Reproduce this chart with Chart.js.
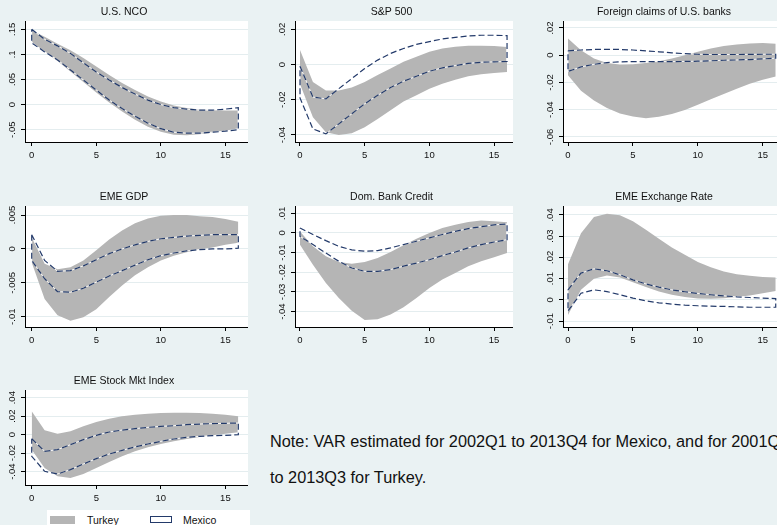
<!DOCTYPE html>
<html>
<head>
<meta charset="utf-8">
<script src="https://cdn.jsdelivr.net/npm/chart.js@4.4.1/dist/chart.umd.min.js"></script>
<style>
  html, body { margin: 0; padding: 0; }
  body {
    width: 777px; height: 525px; overflow: hidden; position: relative;
    background: #eaf2f3; font-family: "Liberation Sans", Arial, sans-serif; color: #111;
  }
  canvas { position: absolute; }
  .note { position: absolute; left: 270px; top: 423px; font-size: 16.3px; line-height: 36px; white-space: nowrap; }
  .legend { position: absolute; left: 47px; top: 510px; width: 203px; height: 24px; background: #fff; }
  .sw { position: absolute; top: 6px; height: 8px; }
  .sw.tur { left: 3px; width: 25px; background: #b5b5b5; }
  .sw.mex { left: 103px; width: 20px; height: 5px; border: 1.5px solid #233a6a; }
  .lab { position: absolute; top: 3px; font-size: 10.5px; line-height: 14px; }
</style>
</head>
<body>
<canvas id="p1"></canvas>
<canvas id="p2"></canvas>
<canvas id="p3"></canvas>
<canvas id="p4"></canvas>
<canvas id="p5"></canvas>
<canvas id="p6"></canvas>
<canvas id="p7"></canvas>

<div class="note">Note: VAR estimated for 2002Q1 to 2013Q4 for Mexico, and for 2001Q1<br>to 2013Q3 for Turkey.</div>
<div class="legend">
  <span class="sw tur"></span><span class="lab" style="left:40px">Turkey</span>
  <span class="sw mex"></span><span class="lab" style="left:136px">Mexico</span>
</div>

<script>
const horizon = [0, 1, 2, 3, 4, 5, 6, 7, 8, 9, 10, 11, 12, 13, 14, 15, 16];
const xTicks = [0, 5, 10, 15];

// U.S. NCO
const ncoTurLo = [.125, .105, .087, .066, .045, .024, .004, -.014, -.030, -.044, -.054, -.060, -.061, -.059, -.056, -.052, -.047];
const ncoTurHi = [.148, .135, .121, .108, .093, .076, .059, .043, .029, .016, .006, -.002, -.007, -.010, -.011, -.012, -.012];
const ncoMexLo = [.123, .105, .089, .069, .049, .029, .009, -.008, -.023, -.037, -.048, -.055, -.057, -.057, -.055, -.053, -.050];
const ncoMexHi = [.150, .130, .117, .102, .083, .065, .049, .034, .021, .009, 0, -.006, -.009, -.011, -.011, -.009, -.006];
const ncoTicks = [-.05, 0, .05, .1, .15];

// S&P 500
const spTurLo = [-.011, -.030, -.0385, -.040, -.039, -.0356, -.031, -.026, -.021, -.0175, -.0137, -.0109, -.0086, -.0067, -.0055, -.0048, -.0042];
const spTurHi = [.0082, -.010, -.0147, -.0147, -.013, -.010, -.006, -.0023, .0015, .0044, .0072, .0091, .0101, .0107, .0107, .0105, .0099];
const spMexLo = [-.019, -.0366, -.0394, -.0337, -.028, -.0223, -.0175, -.0131, -.0095, -.0067, -.0038, -.0019, -.0006, .0006, .0013, .0015, .0017];
const spMexHi = [-.001, -.0185, -.0195, -.0137, -.008, -.0023, .0025, .0063, .0091, .0114, .013, .0145, .0154, .0162, .0166, .0166, .0164];
const spTicks = [-.04, -.02, 0, .02];

// Foreign claims of U.S. banks
const fcTurLo = [-.0148, -.026, -.0333, -.0388, -.0427, -.0449, -.0462, -.0452, -.0432, -.0402, -.0363, -.0323, -.0284, -.0247, -.021, -.018, -.0156];
const fcTurHi = [.0123, .0037, -.0025, -.0057, -.0069, -.0067, -.0057, -.0044, -.0025, 0, .0025, .0049, .0067, .0079, .0086, .0089, .0084];
const fcMexLo = [-.0119, -.0086, -.0067, -.0054, -.0049, -.0047, -.0047, -.0047, -.0047, -.0046, -.0044, -.0041, -.0037, -.0035, -.0032, -.0027, -.0022];
const fcMexHi = [.0032, .0038, .0042, .0043, .0042, .0038, .0032, .0025, .0017, .0011, .0007, .0005, .0005, .0005, .0006, .0007, .0007];
const fcTicks = [-.06, -.04, -.02, 0, .02];

// EME GDP
const gdpTurLo = [-.002, -.0074, -.0098, -.0106, -.0101, -.0089, -.0071, -.0054, -.0039, -.0027, -.0017, -.001, -.0005, -.0001, .0002, .0006, .0009];
const gdpTurHi = [.0017, -.0022, -.003, -.0027, -.0017, -.0002, .0014, .0027, .0038, .0045, .0049, .005, .005, .0048, .0047, .0044, .004];
const gdpMexLo = [-.0017, -.0044, -.0063, -.0064, -.0058, -.0049, -.004, -.0032, -.0024, -.0016, -.001, -.0006, -.0003, -.0001, 0, 0, .0001];
const gdpMexHi = [.0021, -.0017, -.0033, -.0032, -.0025, -.0016, -.0007, 0, .0006, .0011, .0015, .0017, .0019, .002, .0021, .0021, .0021];
const gdpTicks = [-.01, -.005, 0, .005];

// Dom. Bank Credit
const dbcTurLo = [-.006, -.0161, -.0254, -.033, -.0395, -.0442, -.0438, -.0415, -.0378, -.033, -.028, -.0237, -.0203, -.0169, -.0144, -.0124, -.0102];
const dbcTurHi = [.0008, -.0068, -.0119, -.0147, -.0156, -.0147, -.0127, -.0097, -.0063, -.0029, 0, .0025, .0042, .0056, .0063, .0059, .0054];
const dbcMexLo = [-.0017, -.0059, -.0102, -.0144, -.0178, -.0195, -.0195, -.0186, -.0169, -.0153, -.0136, -.0115, -.0097, -.0076, -.0059, -.0046, -.0034];
const dbcMexHi = [.0025, -.0008, -.0039, -.0068, -.0086, -.0093, -.009, -.0076, -.0059, -.0042, -.0025, -.0008, .0008, .0022, .0032, .0041, .0046];
const dbcTicks = [-.04, -.03, -.02, -.01, 0, .01];

// EME Exchange Rate
const fxTurLo = [-.0071, .0047, .0099, .0115, .0105, .0083, .006, .0039, .0024, .0013, .0006, .0005, .0008, .0013, .002, .0031, .0042];
const fxTurHi = [.0168, .0314, .039, .0406, .0398, .037, .033, .0288, .0247, .0212, .0178, .0154, .0134, .0121, .0113, .0108, .0105];
const fxMexLo = [-.0052, .0031, .0047, .0039, .0024, .0008, -.0005, -.0014, -.002, -.0025, -.0028, -.003, -.0031, -.0033, -.0035, -.0035, -.0035];
const fxMexHi = [.0047, .0126, .0146, .0137, .0118, .0094, .0075, .006, .0047, .0038, .003, .0024, .0019, .0014, .0011, .0008, .0006];
const fxTicks = [-.01, 0, .01, .02, .03, .04];

// EME Stock Mkt Index
const smTurLo = [-.0162, -.036, -.045, -.0468, -.0425, -.036, -.0295, -.0234, -.018, -.0137, -.0101, -.0072, -.0047, -.0025, -.0007, .0011, .0025];
const smTurHi = [.0252, .0047, .0011, .0036, .009, .0137, .0173, .0198, .0216, .0227, .0234, .0238, .0238, .0234, .0227, .0216, .0198];
const smMexLo = [-.0234, -.0396, -.0425, -.0378, -.0317, -.0259, -.0209, -.0169, -.0133, -.0101, -.0072, -.0047, -.0029, -.0018, -.0011, -.0007, 0];
const smMexHi = [-.0043, -.018, -.0162, -.0108, -.0054, -.0007, .0029, .005, .0065, .0079, .009, .0097, .0108, .0115, .0119, .0123, .0126];
const smTicks = [-.04, -.02, 0, .02, .04];

const FONT = '"Liberation Sans", Arial, sans-serif';
const NAVY = '#233a6a';
const GRAY = '#b5b5b5';

// box = [left, top, width, height] of each canvas on the page
const panels = [
  { id: 'p1', title: 'U.S. NCO', tur: [ncoTurLo, ncoTurHi], mex: [ncoMexLo, ncoMexHi], yTicks: ncoTicks, y: [-.0745, .1665], x: [-.52, 16.75], box: [0, 0, 248, 162] },
  { id: 'p2', title: 'S&P 500', tur: [spTurLo, spTurHi], mex: [spMexLo, spMexHi], yTicks: spTicks, y: [-.044, .0247], x: [-.386, 16.46], box: [270, 0, 243, 162] },
  { id: 'p3', title: 'Foreign claims of U.S. banks', tur: [fcTurLo, fcTurHi], mex: [fcMexLo, fcMexHi], yTicks: fcTicks, y: [-.0637, .0251], x: [-.386, 17.1], box: [538, 0, 252, 162] },
  { id: 'p4', title: 'EME GDP', tur: [gdpTurLo, gdpTurHi], mex: [gdpMexLo, gdpMexHi], yTicks: gdpTicks, y: [-.01152, .00633], x: [-.52, 16.75], box: [0, 185, 248, 162] },
  { id: 'p5', title: 'Dom. Bank Credit', tur: [dbcTurLo, dbcTurHi], mex: [dbcMexLo, dbcMexHi], yTicks: dbcTicks, y: [-.0478, .0137], x: [-.386, 16.46], box: [270, 185, 243, 162] },
  { id: 'p6', title: 'EME Exchange Rate', tur: [fxTurLo, fxTurHi], mex: [fxMexLo, fxMexHi], yTicks: fxTicks, y: [-.0128, .0442], x: [-.386, 17.1], box: [538, 185, 252, 162] },
  { id: 'p7', title: 'EME Stock Mkt Index', tur: [smTurLo, smTurHi], mex: [smMexLo, smMexHi], yTicks: smTicks, y: [-.0544, .0483], x: [-.52, 16.75], box: [0, 369, 248, 136] }
];

// Stata style labels: .05 instead of 0.05
function fmt(v) {
  return String(+v.toFixed(4)).replace('0.', '.');
}

function series(vals) {
  return horizon.map((x, i) => ({ x: x, y: vals[i] }));
}

// closed outline: upper bound out, lower bound back
function outline(lo, hi) {
  const pts = series(hi);
  for (let i = horizon.length - 1; i >= 0; i--) pts.push({ x: horizon[i], y: lo[i] });
  pts.push({ x: horizon[0], y: hi[0] });
  return pts;
}

const plotBackground = {
  id: 'plotBackground',
  beforeDraw(chart) {
    const { ctx, chartArea: a } = chart;
    ctx.save();
    ctx.fillStyle = '#fff';
    ctx.fillRect(a.left, a.top, a.right - a.left, a.bottom - a.top);
    ctx.restore();
  }
};

const rotatedYLabels = {
  id: 'rotatedYLabels',
  afterDraw(chart) {
    const s = chart.scales.y;
    const ctx = chart.ctx;
    ctx.save();
    ctx.font = '9.5px ' + FONT;
    ctx.fillStyle = '#111';
    ctx.textAlign = 'center';
    ctx.textBaseline = 'middle';
    s.ticks.forEach(t => {
      ctx.save();
      ctx.translate(s.right - 13, s.getPixelForValue(t.value));
      ctx.rotate(-Math.PI / 2);
      ctx.fillText(fmt(t.value), 0, 0);
      ctx.restore();
    });
    ctx.restore();
  }
};

function drawPanel(p) {
  const cv = document.getElementById(p.id);
  cv.width = p.box[2];
  cv.height = p.box[3];
  cv.style.left = p.box[0] + 'px';
  cv.style.top = p.box[1] + 'px';

  new Chart(cv, {
    type: 'line',
    data: {
      datasets: [
        { label: 'Turkey lo', data: series(p.tur[0]), borderWidth: 0, pointRadius: 0, fill: false, order: 3 },
        { label: 'Turkey', data: series(p.tur[1]), borderWidth: 0, pointRadius: 0, fill: '-1', backgroundColor: GRAY, order: 2 },
        { label: 'Mexico edge', data: outline(p.mex[0], p.mex[1]), borderColor: 'rgba(255,255,255,0.9)', borderWidth: 1, pointRadius: 0, fill: false, order: 1 },
        { label: 'Mexico', data: outline(p.mex[0], p.mex[1]), borderColor: NAVY, borderWidth: 1.2, borderDash: [6, 3], pointRadius: 0, fill: false, order: 0 }
      ]
    },
    options: {
      responsive: false,
      animation: false,
      devicePixelRatio: 1,
      layout: { padding: 0 },
      elements: { line: { tension: 0 } },
      plugins: {
        legend: { display: false },
        tooltip: { enabled: false },
        title: {
          display: true, text: p.title, color: '#111',
          font: { size: 10.5, family: FONT, weight: 'normal' },
          padding: { top: 5.5, bottom: 2.9 }
        }
      },
      scales: {
        x: {
          type: 'linear', min: p.x[0], max: p.x[1],
          afterFit: s => { s.height = 20; },
          afterBuildTicks: s => { s.ticks = xTicks.map(v => ({ value: v })); },
          grid: { drawOnChartArea: false, tickLength: 4, tickColor: '#000' },
          border: { color: '#000', width: 1 },
          ticks: { color: '#111', font: { size: 9.5, family: FONT }, padding: 4, maxRotation: 0, autoSkip: false }
        },
        y: {
          min: p.y[0], max: p.y[1],
          afterFit: s => { s.width = 25; },
          afterBuildTicks: s => { s.ticks = p.yTicks.map(v => ({ value: v })); },
          grid: { color: '#e4edef', tickLength: 4, tickColor: '#000' },
          border: { color: '#000', width: 1 },
          ticks: { display: false }
        }
      }
    },
    plugins: [plotBackground, rotatedYLabels]
  });
}

panels.forEach(drawPanel);
</script>
</body>
</html>
